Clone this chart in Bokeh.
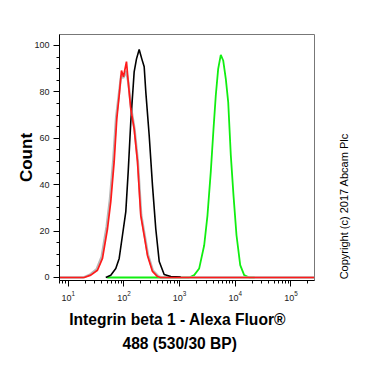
import math
from bokeh.plotting import figure
from bokeh.models import Range1d, FixedTicker, LogTickFormatter, LinearAxis, Title
from bokeh.embed import file_html
from bokeh.resources import INLINE

# ---- data (log10 of fluorescence, count) ----
red_log = [0.84, 1.286, 1.405, 1.525, 1.615, 1.705, 1.764, 1.825, 1.872, 1.915, 1.956,
           1.992, 2.046, 2.077, 2.123, 2.184, 2.244, 2.303, 2.364, 2.423, 2.513, 2.603, 2.657, 5.42]
red_cnt = [0, 0, 1.0, 3.1, 8.2, 21, 32.7, 49.9, 68.4, 78.4, 89.2,
           86.5, 93, 84.3, 72.7, 64, 49.9, 26.7, 18, 9.5, 2.6, 0.4, 0, 0]

gray_log = [0.84, 1.27, 1.39, 1.51, 1.60, 1.69, 1.75, 1.81, 1.86, 1.91, 1.95,
            1.99, 2.04, 2.08, 2.13, 2.19, 2.25, 2.31, 2.37, 2.43, 2.52, 2.62, 2.68, 5.42]
gray_cnt = [0, 0, 1.2, 3.6, 9.0, 22, 34, 51, 69, 79, 87,
            86, 89, 84, 73, 64, 50, 27, 18.5, 10, 3.0, 0.5, 0, 0]

black_log = [1.674, 1.764, 1.854, 1.915, 1.974, 2.034, 2.077, 2.123, 2.184, 2.226, 2.274,
             2.321, 2.364, 2.393, 2.454, 2.513, 2.572, 2.634, 2.723, 2.842, 3.02]
black_cnt = [0, 1.0, 3.9, 8.2, 18.2, 28.4, 45.6, 67, 88.6, 94.2, 98.2,
             94.2, 90.8, 80, 61.2, 39.7, 21, 6.9, 1.3, 0.4, 0.2]

green_log = [1.70, 3.172, 3.262, 3.352, 3.442, 3.501, 3.56, 3.609, 3.65, 3.693, 3.74,
             3.783, 3.83, 3.873, 3.92, 3.968, 4.022, 4.089, 4.16, 4.25, 4.35]
green_cnt = [0, 0, 1.0, 3.9, 13.9, 26.8, 45.5, 64, 78.4, 89.9, 95.9,
             93.5, 85.6, 75.6, 52.6, 35.4, 18.2, 5.3, 1.0, 0, 0]

x_major = [1e1, 1e2, 1e3, 1e4, 1e5]
y_major = [0, 20, 40, 60, 80, 100]

x_label_1 = "Integrin beta 1 - Alexa Fluor\u00ae"
x_label_2 = "488 (530/30 BP)"
y_label = "Count"
copyright_text = "Copyright (c) 2017 Abcam Plc"
copyright_anchor = -0.8  # count level where the rotated note starts

FONT = "Liberation Sans"

def tolin(v):
    return [10 ** a for a in v]

x_minor = [k * 10 ** e for e in range(0, 6) for k in range(2, 10)]
y_minor = [v for v in range(0, 105, 5) if v % 20 != 0]

p = figure(width=360, height=354, x_axis_type="log",
           x_range=Range1d(10 ** 0.843, 10 ** 5.423), y_range=Range1d(-1.3, 104.7),
           output_backend="svg", toolbar_location=None,
           min_border_left=59, min_border_right=46, min_border_top=34, min_border_bottom=74)
p.xgrid.visible = False
p.ygrid.visible = False
p.outline_line_color = "#777777"
p.background_fill_color = "white"
p.border_fill_color = "white"

p.line(tolin(green_log), green_cnt, line_color="#11ee11", line_width=1.8)
p.line(tolin(gray_log), gray_cnt, line_color="#b8b8b8", line_width=2.4)
p.line(tolin(black_log), black_cnt, line_color="#000000", line_width=1.6)
p.line(tolin(red_log), red_cnt, line_color="#ff1a1a", line_width=1.7)

xa = p.xaxis[0]
xa.ticker = FixedTicker(ticks=x_major, minor_ticks=x_minor)
xa.formatter = LogTickFormatter()
xa.major_tick_in = 0
xa.major_tick_out = 6
xa.minor_tick_in = 0
xa.minor_tick_out = 3
xa.axis_line_color = "black"
xa.major_label_text_font = FONT
xa.major_label_text_font_size = "9px"
xa.major_label_text_color = "#222222"
xa.major_label_standoff = 4

ya = p.yaxis[0]
ya.ticker = FixedTicker(ticks=y_major, minor_ticks=y_minor)
ya.major_tick_in = 0
ya.major_tick_out = 6
ya.minor_tick_in = 0
ya.minor_tick_out = 3
ya.axis_line_color = "black"
ya.major_label_text_font = FONT
ya.major_label_text_font_size = "9px"
ya.major_label_text_color = "#222222"
ya.major_label_standoff = 4
ya.axis_label = y_label
ya.axis_label_text_font = FONT
ya.axis_label_text_font_size = "17px"
ya.axis_label_text_font_style = "bold"
ya.axis_label_text_color = "black"
ya.axis_label_standoff = -5

for txt, off, so in [(x_label_1, 9.7, 10), (x_label_2, 63, 0)]:
    p.add_layout(Title(text=txt, align="left", offset=off, text_font=FONT,
                       text_font_size="15.6px", text_font_style="bold",
                       text_color="black", standoff=so), "below")

rax = LinearAxis(ticker=FixedTicker(ticks=[copyright_anchor], minor_ticks=[]),
                 major_label_overrides={copyright_anchor: copyright_text},
                 major_label_orientation=math.pi / 2,
                 axis_line_color=None, major_tick_line_color=None,
                 minor_tick_line_color=None, major_tick_in=0, major_tick_out=0,
                 minor_tick_in=0, minor_tick_out=0,
                 major_label_text_font=FONT, major_label_text_font_size="11px",
                 major_label_text_color="black", major_label_standoff=30)
p.add_layout(rax, "right")

open("out.html", "w").write(file_html(p, INLINE))
